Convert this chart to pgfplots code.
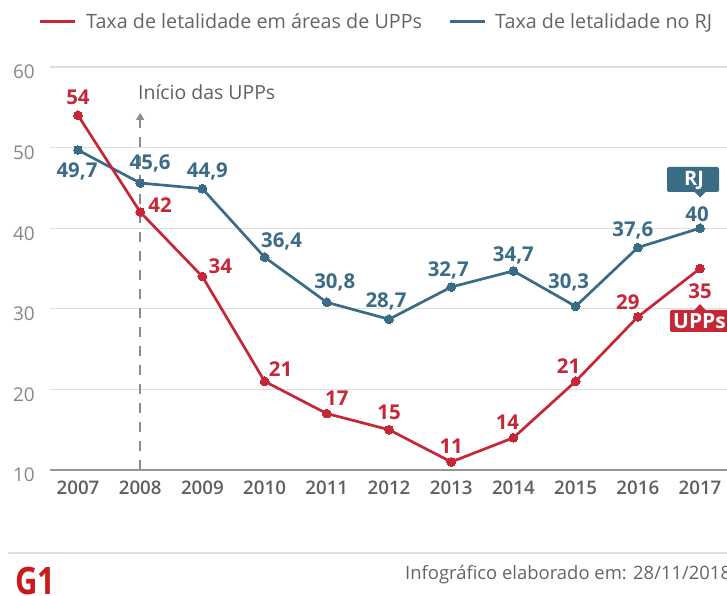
\documentclass[border=0pt]{standalone}
\usepackage{fontspec}
\setmainfont{Open Sans}
\newfontfamily\semib{Open Sans Semibold}
\usepackage{pgfplots}
\pgfplotsset{compat=1.18}
\usetikzlibrary{arrows.meta}
\definecolor{upp}{RGB}{197,39,55}
\definecolor{rj}{RGB}{59,108,133}
\definecolor{gridc}{RGB}{222,222,222}
\definecolor{axc}{RGB}{150,150,150}
\definecolor{tickx}{RGB}{95,95,95}
\definecolor{ticky}{RGB}{135,135,135}
\definecolor{txt}{RGB}{100,100,100}
\definecolor{dashc}{RGB}{140,140,140}
\definecolor{gone}{RGB}{200,28,28}

\begin{document}
\begin{tikzpicture}[x=1bp,y=1bp]
\useasboundingbox (0,0) rectangle (727,596);
\clip (0,0) rectangle (727,596);
\begin{axis}[
  at={(50bp,126bp)}, anchor=south west,
  scale only axis, width=690bp, height=403bp,
  xmin=2006.55, xmax=2017.643, ymin=10, ymax=60,
  axis line style={draw=none},
  xtick={2007,2008,...,2017},
  ytick={10,20,...,60},
  major tick length=0pt,
  tick style={draw=none},
  ymajorgrids,
  grid style={gridc, line width=1.2bp},
  /pgf/number format/assume math mode=true,
  /pgf/number format/1000 sep={},
  xticklabel style={font=\semib\fontsize{18.8}{20}\selectfont, text=tickx, anchor=base, inner sep=0pt, yshift=-25bp},
  yticklabel style={font=\fontsize{19}{20}\selectfont, text=ticky, anchor=base east, inner sep=0pt, xshift=-15bp, yshift=-12bp},
  clip=false,
]
\draw[axc, line width=2bp] (axis cs:2006.55,10) -- (axis cs:2017.643,10);
\draw[dashc, line width=1.5bp, dash pattern=on 10bp off 9bp] (axis cs:2008,10) -- (axis cs:2008,53.1);
\draw[dashc, line width=1.5bp, -{Triangle[width=8bp,length=7bp]}] (axis cs:2008,53.1) -- (axis cs:2008,54.3);

\addplot[rj, line width=2.7bp, mark=*, mark size=4.4bp,
  mark options={fill=rj, draw=rj, line width=0pt},
  nodes near coords, point meta=explicit symbolic,
  visualization depends on={\thisrow{dx} \as \dx},
  visualization depends on={\thisrow{dy} \as \dy},
  every node near coord/.append style={anchor=center, inner sep=0pt, xshift=\dx, yshift=\dy,
    font=\bfseries\fontsize{20.5}{22}\selectfont, text=rj}]
  table[x=x, y=y, meta=lab] {
x y dx dy lab
2007 49.7 -1 -22 49,7
2008 45.6 10 20 45,6
2009 44.9 5 17 44,9
2010 36.4 17 16 36,4
2011 30.8 8 20 30,8
2012 28.7 -3 18 28,7
2013 32.7 -3 17 32,7
2014 34.7 0 16 34,7
2015 30.3 -7 24 30,3
2016 37.6 -5 17 37,6
2017 40 -3 14 40
};

\addplot[upp, line width=2.7bp, mark=*, mark size=4.4bp,
  mark options={fill=upp, draw=upp, line width=0pt},
  nodes near coords, point meta=explicit symbolic,
  visualization depends on={\thisrow{dx} \as \dx},
  visualization depends on={\thisrow{dy} \as \dy},
  every node near coord/.append style={anchor=center, inner sep=0pt, xshift=\dx, yshift=\dy,
    font=\bfseries\fontsize{20.5}{22}\selectfont, text=upp}]
  table[x=x, y=y, meta=lab] {
x y dx dy lab
2007 54 0 18 54
2008 42 20 7 42
2009 34 18 10 34
2010 21 16 12 21
2011 17 10 15 17
2012 15 0 17 15
2013 11 0 16 11
2014 14 -6 16 14
2015 21 -7 15 21
2016 29 -10 15 29
2017 35 0 -23 35
};
\end{axis}

% legend
\draw[upp, line width=3bp] (40,574.3) -- (75,574.3);
\node[anchor=base west, inner sep=0pt, text=txt, font=\fontsize{19.8}{22}\selectfont] at (86,567.7) {Taxa de letalidade em áreas de UPPs};
\draw[rj, line width=3bp] (450,574.3) -- (485,574.3);
\node[anchor=base west, inner sep=0pt, text=txt, font=\fontsize{19.8}{22}\selectfont] at (495,567.7) {Taxa de letalidade no RJ};

% annotation
\node[anchor=base west, inner sep=0pt, text=tickx, font=\fontsize{19.5}{22}\selectfont] at (138,496) {Início das UPPs};

% end labels
\fill[rj, rounded corners=2bp] (667,404) rectangle (719,429);
\fill[rj] (694,404.5) -- (706,404.5) -- (700,398.5) -- cycle;
\node[anchor=base, inner sep=0pt, text=white, font=\bfseries\fontsize{20}{20}\selectfont] at (694,410.5) {RJ};
\fill[upp, rounded corners=2bp] (670,264) rectangle (745,286);
\fill[upp] (694,285.5) -- (706,285.5) -- (700,292) -- cycle;
\node[anchor=base west, inner sep=0pt, text=white, font=\bfseries\fontsize{21}{22}\selectfont] at (673,267) {UPPs};

% footer
\draw[gridc, line width=2bp] (8,43) -- (727,43);
\node[anchor=base west, inner sep=0pt, text=txt, font=\fontsize{18.5}{20}\selectfont] at (405,16.7) {Infográfico elaborado em: 28/11/2018};
\node[anchor=north west, inner sep=0pt, text=gone] at (15,29) {\scalebox{0.82}[1]{\bfseries\fontsize{38}{38}\selectfont G1}};
\end{tikzpicture}
\end{document}
